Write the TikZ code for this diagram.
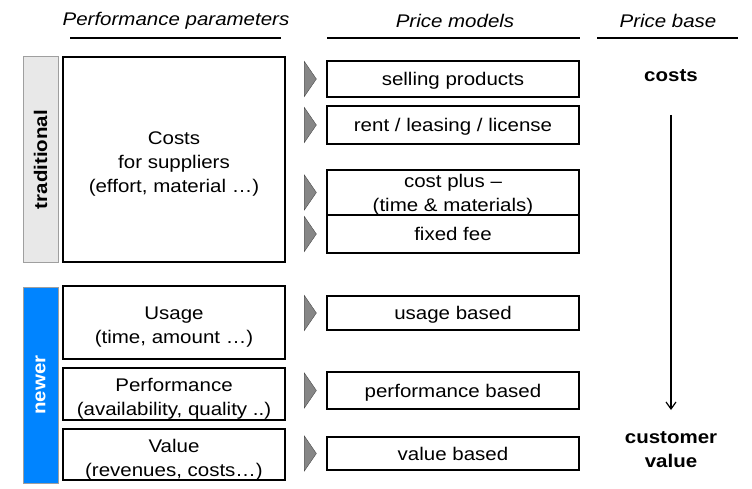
\documentclass[tikz,border=0pt]{standalone}
\usepackage{fontspec}
\setmainfont{Liberation Sans}[FakeStretch=1.12]
\usetikzlibrary{arrows.meta}

\definecolor{newblue}{RGB}{0,132,255}
\definecolor{tradgray}{RGB}{232,232,232}

\tikzset{
    param box/.style={
        draw,line width=1.5pt,inner sep=0pt,
        minimum width=222pt
    },
    param text/.style={
        align=center,inner sep=0pt,yshift=-5pt,
        font=\fontsize{18.3}{24}\selectfont
    },
    model box/.style={
        draw,line width=1.3pt,align=center,inner sep=0pt,
        minimum width=252pt,text depth=-3.5pt,
        font=\fontsize{18.3}{24}\selectfont
    },
    era label/.style={
        rotate=90,draw=gray!75,line width=1pt,inner sep=0pt,
        minimum height=35pt,
        font=\fontsize{18.3}{22}\selectfont\bfseries
    },
    column head/.style={font=\fontsize{18.3}{22}\selectfont\itshape},
    base label/.style={align=center,inner sep=0pt,font=\fontsize{18.3}{24}\selectfont\bfseries},
    pointer/.style={fill=gray!95,draw=gray!60!black,thin}
}

\begin{document}
\begin{tikzpicture}[x=1pt,y=-1pt]
        \useasboundingbox (0,0) rectangle (752,489);
        % column heads
        \node[column head] (headparam) at (176,20.5) {Performance parameters};
        \node[column head] (headmodel) at (455,20.5) {Price models};
        \node[column head] (headbase) at (668,20.5) {Price base};
        \draw[line width=1.4pt] (70,38) -- (281,38);
        \draw[line width=1.4pt] (327,38) -- (580,38);
        \draw[line width=1.4pt] (597,38) -- (738,38);
        % eras
        \node[era label,fill=tradgray,minimum width=205pt] (trad) at (40.5,159.5) {traditional};
        \node[era label,fill=newblue,text=white,minimum width=196pt] (newer) at (40.5,385) {newer};
        % performance parameters
        \node[param box,minimum height=205pt,label={[param text]center:{Costs\\for suppliers\\(effort, material …)}}] (costs) at (174,159.5) {};
        \node[param box,minimum height=73pt,label={[param text]center:{Usage\\(time, amount …)}}] (usage) at (174,322.5) {};
        \node[param box,minimum height=52pt,label={[param text]center:{Performance\\(availability, quality ..)}}] (perf) at (174,394) {};
        \node[param box,minimum height=51pt,label={[param text]center:{Value\\(revenues, costs…)}}] (value) at (174,454.5) {};
        % price models
        \foreach \name/\y/\h/\txt in {sell/79/36/selling products,
                rent/125/38/{rent / leasing / license},
                costplus/192.5/45/{cost plus –\\(time \& materials)},
                fixed/234/38/fixed fee,
                usagebased/313/34/usage based,
                perfbased/390.5/37/performance based,
                valuebased/453.5/33/value based}{
            \node[model box,minimum height=\h*1pt] (\name) at (453,\y) {\txt};
            \draw[pointer] ([xshift=-22pt,yshift=17.5pt]\name.west) -- ([xshift=-10pt]\name.west)
                -- ([xshift=-22pt,yshift=-17.5pt]\name.west) -- cycle;
        }
        % price base
        \node[base label] (basecosts) at (671,76) {costs};
        \node[base label] (custvalue) at (671,450) {customer\\value};
        \draw[line width=1.2pt,-{Straight Barb[length=7pt,width=10pt]},shorten <=39pt,shorten >=40pt]
            (basecosts.center) -- (custvalue.center);
    \end{tikzpicture}
\end{document}
